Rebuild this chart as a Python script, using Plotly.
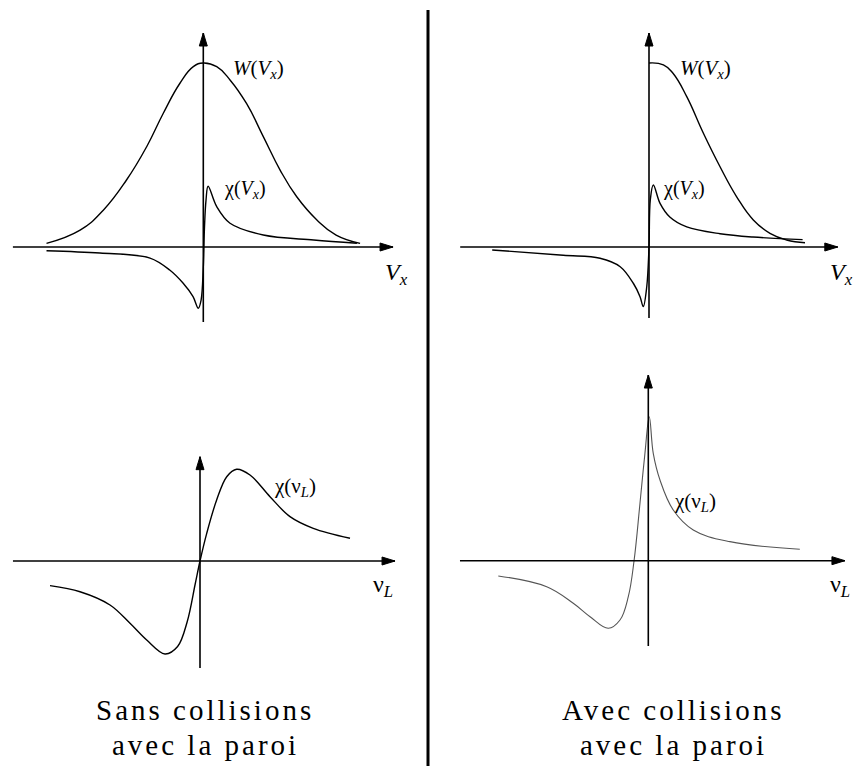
import plotly.graph_objects as go

W, H = 853, 766

# ---------------- data (normalised units) ----------------
# Top-left ("Sans collisions"): velocity distribution W(Vx)
vx_w_left = [-0.98, -0.77, -0.625, -0.48, -0.354, -0.25, -0.146, -0.0625, 0.0,
             0.084, 0.167, 0.27, 0.375, 0.48, 0.584, 0.71, 0.83, 0.98]
w_left = [0.02, 0.092, 0.20, 0.364, 0.545, 0.727, 0.89, 0.98, 1.0,
          0.98, 0.908, 0.78, 0.60, 0.418, 0.273, 0.147, 0.065, 0.02]

# Top-left: chi(Vx)
vx_chi_left = [-0.98, -0.646, -0.333, -0.21, -0.127, -0.064, -0.031, -0.014, 0.0,
               0.0075, 0.017, 0.03, 0.084, 0.167, 0.375, 0.69, 0.96]
chi_vx_left = [-0.02, -0.033, -0.06, -0.125, -0.196, -0.27, -0.333, -0.29, -0.11,
               0.11, 0.255, 0.33, 0.219, 0.129, 0.065, 0.038, 0.02]

# Top-right ("Avec collisions"): W(Vx) for Vx > 0 only
vx_w_right = [0.0, 0.09, 0.15, 0.236, 0.34, 0.444, 0.548, 0.652, 0.756, 0.86, 0.975]
w_right = [1.0, 0.99, 0.944, 0.817, 0.618, 0.436, 0.273, 0.147, 0.074, 0.038, 0.023]

# Top-right: chi(Vx)
vx_chi_right = [-0.98, -0.536, -0.306, -0.18, -0.098, -0.056, -0.036, -0.014, 0.0,
                0.008, 0.027, 0.069, 0.13, 0.236, 0.444, 0.65, 0.96]
chi_vx_right = [-0.016, -0.045, -0.061, -0.107, -0.197, -0.27, -0.324, -0.216, 0.0,
                0.255, 0.337, 0.237, 0.163, 0.109, 0.072, 0.054, 0.04]

# Bottom-left: chi(nu_L) without wall collisions
nu_left = [-0.9375, -0.75, -0.5625, -0.4375, -0.333, -0.219, -0.14, -0.08, -0.03, 0.0,
           0.042, 0.104, 0.167, 0.229, 0.3125, 0.4375, 0.5625, 0.708, 0.9375]
chi_nu_left = [-0.268, -0.334, -0.478, -0.677, -0.859, -1.011, -0.93, -0.66, -0.25, 0.0,
               0.301, 0.663, 0.916, 0.997, 0.935, 0.699, 0.482, 0.355, 0.247]

# Bottom-right: chi(nu_L) with wall collisions
nu_right = [-0.9375, -0.635, -0.469, -0.364, -0.25, -0.177, -0.125, -0.089, -0.052, -0.021,
            0.006, 0.031, 0.073, 0.156, 0.281, 0.51, 0.947]
chi_nu_right = [-0.166, -0.283, -0.463, -0.609, -0.735, -0.645, -0.391, 0.0, 0.624, 1.167,
                1.565, 1.167, 0.877, 0.551, 0.334, 0.207, 0.124]

captions_left = ["Sans collisions", "avec la paroi"]
captions_right = ["Avec collisions", "avec la paroi"]

# ---------------- layout geometry ----------------
SERIF = "Liberation Serif"
panels = {
    # origin px, px per unit (x, y), data ranges, axis-arrow extents
    "tl": dict(o=(203.3, 247.0), ux=160, uy=184, xr=(-1.25, 1.25), yr=(-0.5, 1.25),
               hx=(-1.19, 1.186), vy=(-0.408, 1.163)),
    "tr": dict(o=(649.0, 247.0), ux=160, uy=184, xr=(-1.25, 1.25), yr=(-0.5, 1.25),
               hx=(-1.18, 1.18), vy=(-0.386, 1.163)),
    "bl": dict(o=(200.0, 561.0), ux=160, uy=92, xr=(-1.25, 1.25), yr=(-1.3, 1.3),
               hx=(-1.169, 1.219), vy=(-1.163, 1.134)),
    "br": dict(o=(648.3, 560.7), ux=160, uy=92, xr=(-1.25, 1.25), yr=(-1.0, 2.1),
               hx=(-1.177, 1.229), vy=(-0.927, 2.018)),
}
order = ["tl", "tr", "bl", "br"]

fig = go.Figure()
layout = dict(width=W, height=H, margin=dict(l=0, r=0, t=0, b=0),
              paper_bgcolor="white", plot_bgcolor="white", showlegend=False,
              font=dict(family=SERIF, color="black"))
shapes, annotations = [], []

axis_ids = {}
for i, key in enumerate(order):
    p = panels[key]
    ox, oy = p["o"]
    x0 = ox + p["xr"][0] * p["ux"]
    x1 = ox + p["xr"][1] * p["ux"]
    ytop = oy - p["yr"][1] * p["uy"]
    ybot = oy - p["yr"][0] * p["uy"]
    n = "" if i == 0 else str(i + 1)
    axis_ids[key] = ("x" + n, "y" + n)
    common = dict(visible=False, showgrid=False, zeroline=False, fixedrange=True)
    layout["xaxis" + n] = dict(domain=[x0 / W, x1 / W], range=list(p["xr"]),
                               anchor="y" + n, **common)
    layout["yaxis" + n] = dict(domain=[1 - ybot / H, 1 - ytop / H], range=list(p["yr"]),
                               anchor="x" + n, **common)
    xa, ya = axis_ids[key]
    shapes.append(dict(type="line", xref=xa, yref=ya, x0=p["hx"][0], x1=p["hx"][1], y0=0, y1=0,
                       line=dict(color="black", width=1.6)))
    shapes.append(dict(type="line", xref=xa, yref=ya, x0=0, x1=0, y0=p["vy"][0], y1=p["vy"][1],
                       line=dict(color="black", width=1.6)))
    shapes.append(dict(type="path", xref=xa, yref=ya, xsizemode="pixel", ysizemode="pixel",
                       xanchor=p["hx"][1], yanchor=0, path="M0,0 L-13,4 L-13,-4 Z",
                       fillcolor="black", line=dict(color="black", width=1)))
    shapes.append(dict(type="path", xref=xa, yref=ya, xsizemode="pixel", ysizemode="pixel",
                       xanchor=0, yanchor=p["vy"][1], path="M0,0 L-4,-13 L4,-13 Z",
                       fillcolor="black", line=dict(color="black", width=1)))


def add_curve(key, xs, ys, color="black", width=1.4, smoothing=1.0):
    xa, ya = axis_ids[key]
    fig.add_trace(go.Scatter(x=xs, y=ys, mode="lines", xaxis=xa, yaxis=ya,
                             line=dict(color=color, width=width, shape="spline",
                                       smoothing=smoothing),
                             hoverinfo="skip"))


add_curve("tl", vx_w_left, w_left, smoothing=1.3)
add_curve("tl", vx_chi_left, chi_vx_left)
add_curve("tr", vx_w_right, w_right, smoothing=1.3)
add_curve("tr", vx_chi_right, chi_vx_right)
add_curve("bl", nu_left, chi_nu_left, smoothing=1.0)
add_curve("br", nu_right, chi_nu_right, color="#555555", width=1.1, smoothing=1.1)


def label(key, x, y, text, size):
    xa, ya = axis_ids[key]
    annotations.append(dict(xref=xa, yref=ya, x=x, y=y, text=text, showarrow=False,
                            xanchor="left", yanchor="middle",
                            font=dict(family=SERIF, size=size, color="black")))


W_LABEL = "<i>W</i>(<i>V</i><sub><i>x</i></sub>)"
CHI_V_LABEL = "χ(<i>V</i><sub><i>x</i></sub>)"
V_AXIS = "<i>V</i><sub><i>x</i></sub>"
CHI_NU_LABEL = "χ(ν<sub><i>L</i></sub>)"
NU_AXIS = "ν<sub><i>L</i></sub>"

label("tl", 0.17, 0.97, W_LABEL, 21)
label("tl", 0.115, 0.31, CHI_V_LABEL, 20)
label("tl", 1.12, -0.145, V_AXIS, 24)
label("tr", 0.18, 0.97, W_LABEL, 21)
label("tr", 0.072, 0.31, CHI_V_LABEL, 20)
label("tr", 1.12, -0.145, V_AXIS, 24)
label("bl", 0.45, 0.80, CHI_NU_LABEL, 21)
label("bl", 1.07, -0.27, NU_AXIS, 24)
label("br", 0.145, 0.64, CHI_NU_LABEL, 21)
label("br", 1.125, -0.27, NU_AXIS, 24)

# captions (letter-spaced like the original typesetting)
for cx, lines in ((205, captions_left), (673, captions_right)):
    for cy, txt in zip((710, 745), lines):
        annotations.append(dict(xref="paper", yref="paper", x=cx / W, y=1 - cy / H,
                                xanchor="center", yanchor="middle", showarrow=False,
                                text='<span style="letter-spacing:3px">' + txt + "</span>",
                                font=dict(family=SERIF, size=29, color="black")))

# central divider
shapes.append(dict(type="line", xref="paper", yref="paper", x0=428 / W, x1=428 / W,
                   y0=1 - 10 / H, y1=0, line=dict(color="black", width=3)))

layout["shapes"] = shapes
layout["annotations"] = annotations
fig.update_layout(**layout)
fig.write_html("out.html")
